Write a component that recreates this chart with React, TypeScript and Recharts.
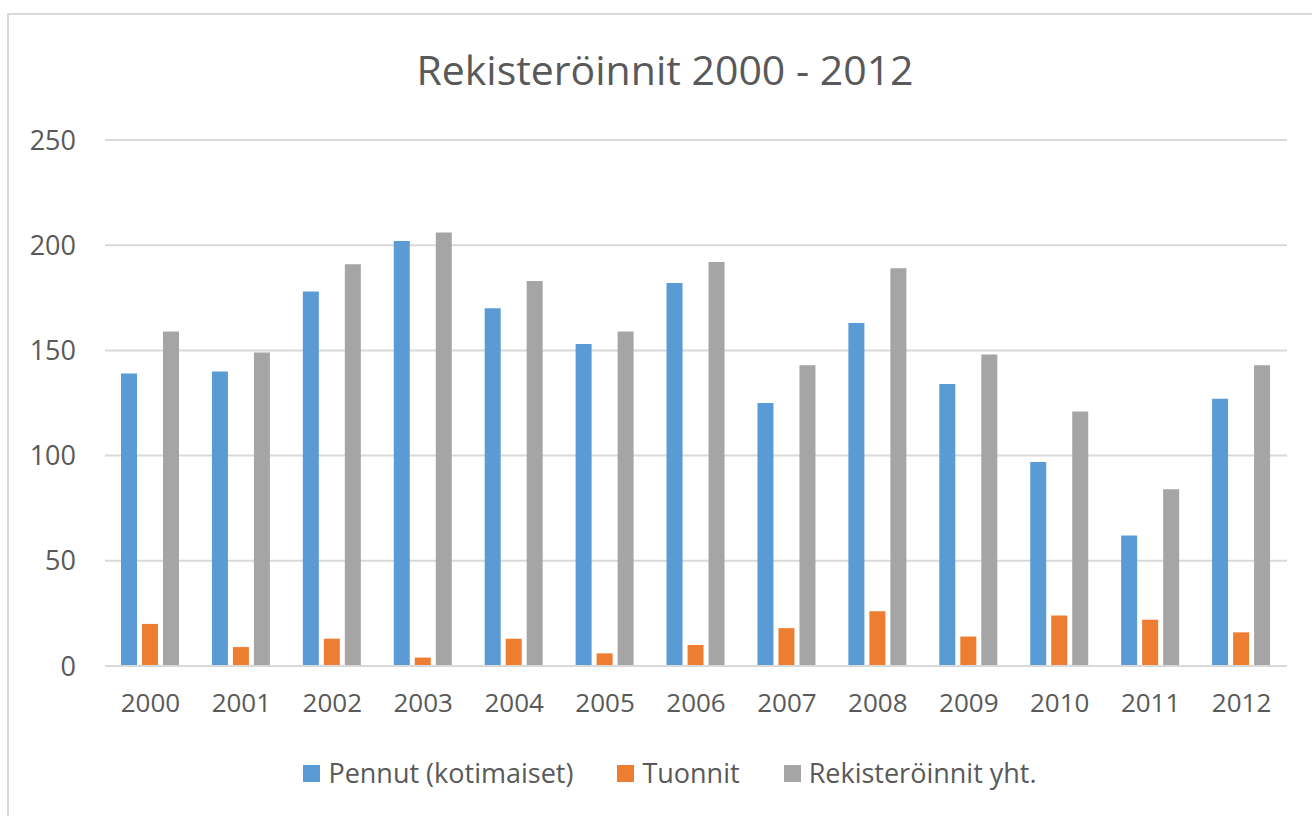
import { BarChart, Bar, XAxis, YAxis, CartesianGrid } from 'recharts';

// Vuodet ja sarjat
const years = ['2000', '2001', '2002', '2003', '2004', '2005', '2006', '2007', '2008', '2009', '2010', '2011', '2012'];
const pennut = [139, 140, 178, 202, 170, 153, 182, 125, 163, 134, 97, 62, 127];
const tuonnit = [20, 9, 13, 4, 13, 6, 10, 18, 26, 14, 24, 22, 16];
const yhteensa = [159, 149, 191, 206, 183, 159, 192, 143, 189, 148, 121, 84, 143];
const yTicks = [0, 50, 100, 150, 200, 250];

const seriesNames = ['Pennut (kotimaiset)', 'Tuonnit', 'Rekisteröinnit yht.'];
const COLORS = ['#5b9bd5', '#ed7d31', '#a5a5a5'];
const TEXT = '#595959';
const GRID = '#d9d9d9';
const FONT = '"Open Sans", sans-serif';

const data = years.map((year, i) => ({
  year,
  pennut: pennut[i],
  tuonnit: tuonnit[i],
  yhteensa: yhteensa[i],
}));

export default function App() {
  return (
    <div style={{ position: 'relative', width: 1312, height: 816, overflow: 'hidden', background: '#fff' }}>
      <style>{'body{margin:0;overflow:hidden}'}</style>
      {/* kehys */}
      <div
        style={{
          position: 'absolute', left: 7, top: 13, width: 1330, height: 830,
          border: `2px solid ${GRID}`, boxSizing: 'border-box',
        }}
      />
      <div
        style={{
          position: 'absolute', left: 0, top: 44, width: 1330, textAlign: 'center',
          fontFamily: FONT, fontSize: 41, color: TEXT, lineHeight: '50px', whiteSpace: 'nowrap',
        }}
      >
        Rekisteröinnit 2000 - 2012
      </div>
      <div style={{ position: 'absolute', left: 0, top: 0 }}>
        <BarChart
          width={1312}
          height={816}
          data={data}
          margin={{ top: 140, right: 25, bottom: 90, left: 0 }}
          barSize={16}
          barGap={5}
        >
          <CartesianGrid vertical={false} stroke={GRID} strokeWidth={2} />
          <XAxis
            dataKey="year"
            tickLine={false}
            tickSize={0}
            tickMargin={28}
            axisLine={{ stroke: GRID, strokeWidth: 2 }}
            tick={{ fill: TEXT, fontSize: 26, fontFamily: FONT }}
            height={60}
            interval={0}
          />
          <YAxis
            domain={[0, 250]}
            ticks={yTicks}
            axisLine={false}
            tickLine={false}
            tickSize={0}
            tickMargin={29}
            width={105}
            tick={{ fill: TEXT, fontSize: 27, fontFamily: FONT }}
          />
          <Bar dataKey="pennut" name={seriesNames[0]} fill={COLORS[0]} isAnimationActive={false} />
          <Bar dataKey="tuonnit" name={seriesNames[1]} fill={COLORS[1]} isAnimationActive={false} />
          <Bar dataKey="yhteensa" name={seriesNames[2]} fill={COLORS[2]} isAnimationActive={false} />
        </BarChart>
      </div>
      {/* selite */}
      <div
        style={{
          position: 'absolute', left: 0, top: 758, width: 1340, display: 'flex', justifyContent: 'center',
          gap: 44, fontFamily: FONT, fontSize: 27, color: TEXT, lineHeight: '30px', whiteSpace: 'nowrap',
        }}
      >
        {seriesNames.map((name, i) => (
          <div key={name} style={{ display: 'flex', alignItems: 'center' }}>
            <span style={{ width: 17, height: 17, background: COLORS[i], marginRight: 8, display: 'inline-block' }} />
            <span>{name}</span>
          </div>
        ))}
      </div>
    </div>
  );
}
